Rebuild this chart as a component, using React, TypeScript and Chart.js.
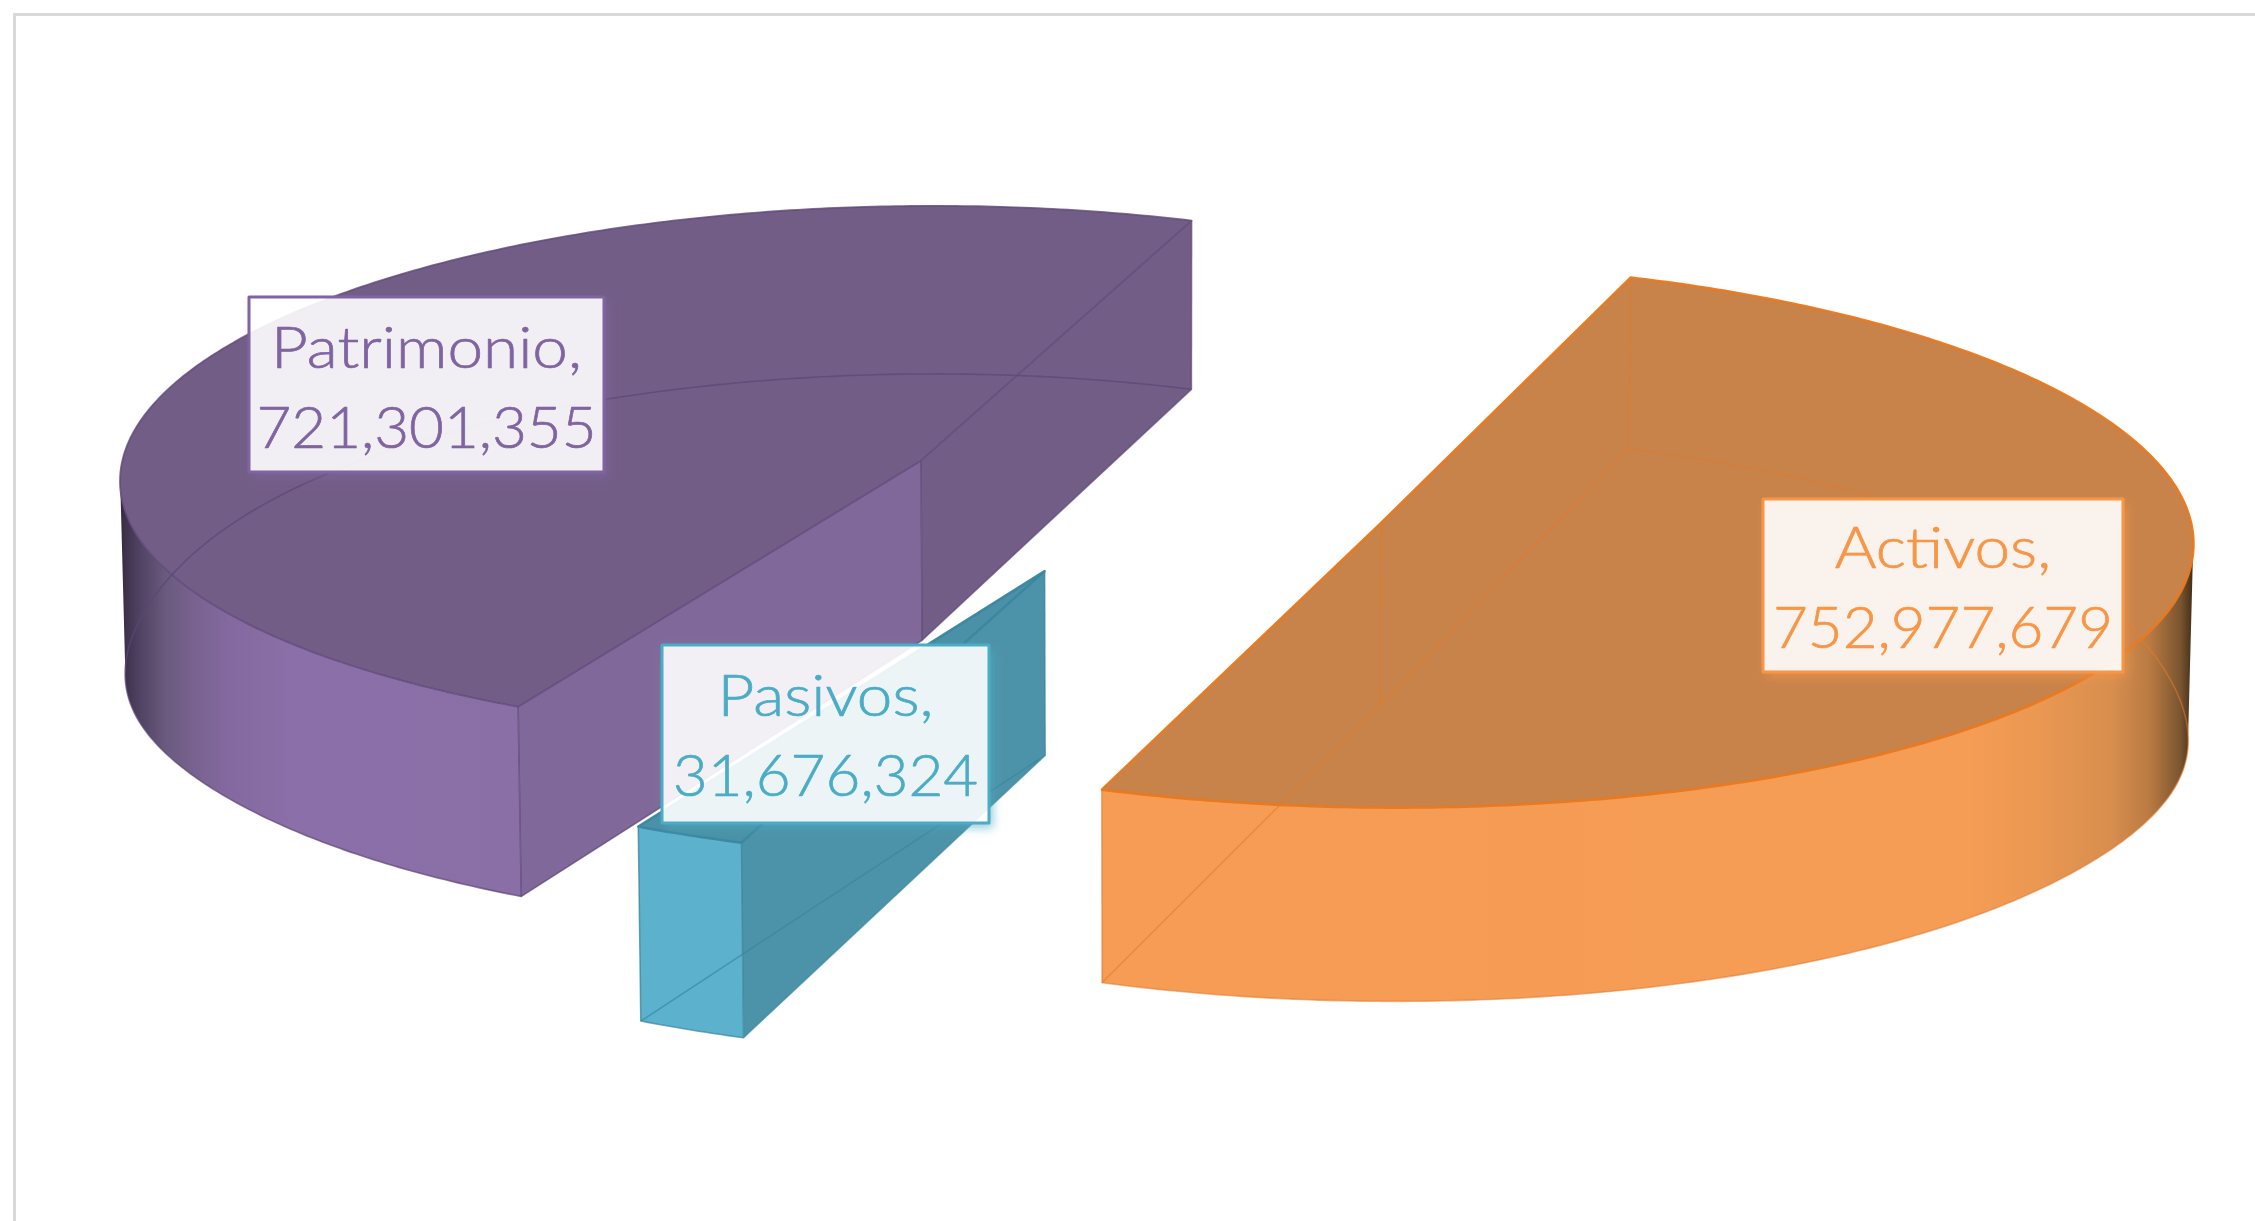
import React, { useEffect, useRef } from "react";
import { Chart, registerables } from "chart.js";

Chart.register(...registerables);

const categories = ["Activos", "Pasivos", "Patrimonio"];
const seriesValues = [752977679, 31676324, 721301355];
const seriesColors = ["#F79646", "#4BACC6", "#8064A2"];

const WIDTH = 2255;
const HEIGHT = 1221;
const ROTATION_DEG = 20;
const EXPLODE_OFFSET = 466;

// Perspective view of the unit pie on the page
const VIEW = {
  cx: 1146.5, cy: 494, a: 804.6, b: 269.4, k: 0.0456, kx: 0.06,
  depth: 181, depthTilt: 11.5, narrow: 0.005,
  sideSag: 14, sideReach: 1.29, sidePower: 16,
  wallInset: 0.06,
};

const PAINT_ORDER = [2, 0, 1];

type Stop = [number, string];
const STYLES: any[] = [
  {
    top: "#C8834A", faceStart: "#C8834A", faceEnd: "#C8834A",
    wall: [[0, "#F69C54"], [0.795, "#F59C55"], [0.855, "#EB9852"], [0.925, "#D88E4E"], [0.96, "#B97A42"], [0.988, "#7A5530"], [1, "#402C18"]] as Stop[],
    rim: "rgba(234,120,28,0.95)", rimWidth: 2.5, hidden: "rgba(226,122,44,0.55)",
  },
  {
    top: "#4A90A6", faceStart: "#4C92A8", faceEnd: "#4C92A8",
    wall: [[0, "#5CB2CC"], [1, "#5CB2CC"]] as Stop[],
    rim: "rgba(58,135,160,0.95)", rimWidth: 2.5, hidden: "rgba(58,135,160,0.7)",
  },
  {
    top: "#725D87", faceStart: "#80699A", faceEnd: "#725D87",
    wall: [[0, "#352A42"], [0.04, "#4C3F5E"], [0.113, "#6A5A7E"], [0.194, "#7A6391"], [0.275, "#8469A0"], [0.44, "#8B6FA8"], [1, "#8A6EA6"]] as Stop[],
    rim: "rgba(95,72,122,0.8)", rimWidth: 1.8, hidden: "rgba(92,70,118,0.7)",
  },
];

const LABEL_BOXES = [
  { x: 1763, y: 499, w: 360, h: 173, textDy: -2 },
  { x: 662, y: 645, w: 327, h: 178, textDy: 0 },
  { x: 249, y: 297, w: 355, h: 175, textDy: 0 },
];
const LINE_OFFSETS = [71, 151];
const LINE_STRETCH = [1.12, 1.055];
const LABEL_FONT = "300 57px Lato";

function project(u: number, v: number, h: number): [number, number] {
  let x = VIEW.cx + (VIEW.a * u) / (1 - VIEW.kx * v);
  let y = VIEW.cy + (VIEW.b * v) / (1 - VIEW.k * v);
  if (h) {
    y += VIEW.depth + VIEW.depthTilt * v + VIEW.sideSag * Math.pow(Math.abs(u) / VIEW.sideReach, VIEW.sidePower);
    x = VIEW.cx + (x - VIEW.cx) * (1 - VIEW.narrow);
  }
  return [x, y];
}

function sliceGeometry(arc: any) {
  const start = arc.startAngle;
  const end = arc.endAngle;
  const mid = (start + end) / 2;
  const d = (arc.options.offset || 0) / 4 / arc.outerRadius;
  const ou = d * Math.cos(mid);
  const ov = d * Math.sin(mid);
  const rim = (t: number, h: number) => project(ou + Math.cos(t), ov + Math.sin(t), h);
  const apex = (h: number) => project(ou, ov, h);
  const sweep = (a: number, b: number, h: number) => {
    const n = Math.max(2, Math.ceil(Math.abs(b - a) / 0.01));
    const pts: [number, number][] = [];
    for (let i = 0; i <= n; i++) pts.push(rim(a + ((b - a) * i) / n, h));
    return pts;
  };
  return { start, end, rim, apex, sweep };
}

function tracePath(ctx: CanvasRenderingContext2D, pts: [number, number][], close = false) {
  ctx.beginPath();
  pts.forEach((p, i) => (i ? ctx.lineTo(p[0], p[1]) : ctx.moveTo(p[0], p[1])));
  if (close) ctx.closePath();
}

function drawSlice(ctx: CanvasRenderingContext2D, arc: any, st: any) {
  const g = sliceGeometry(arc);
  const a0 = g.apex(0);
  const a1 = g.apex(1);

  // radial cut faces
  ctx.fillStyle = st.faceEnd;
  tracePath(ctx, [a0, g.rim(g.end, 0), g.rim(g.end, 1), a1], true);
  ctx.fill();
  ctx.fillStyle = st.faceStart;
  tracePath(ctx, [a0, g.rim(g.start, 0), g.rim(g.start, 1), a1], true);
  ctx.fill();

  // outer wall: only the part of the rim that faces the viewer
  const ranges: [number, number][] = [];
  for (const k of [-1, 0, 1]) {
    const lo = Math.max(g.start, k * 2 * Math.PI + VIEW.wallInset);
    const hi = Math.min(g.end, k * 2 * Math.PI + Math.PI - VIEW.wallInset);
    if (hi > lo) ranges.push([lo, hi]);
  }
  for (const [lo, hi] of ranges) {
    const top = g.sweep(lo, hi, 0);
    const bottom = g.sweep(hi, lo, 1);
    const all = top.concat(bottom);
    const xs = all.map((p) => p[0]);
    const grad = ctx.createLinearGradient(Math.min(...xs), 0, Math.max(...xs), 0);
    st.wall.forEach((s: Stop) => grad.addColorStop(s[0], s[1]));
    ctx.fillStyle = grad;
    tracePath(ctx, all, true);
    ctx.fill();
  }

  // top face
  const topFace = [a0, ...g.sweep(g.start, g.end, 0)];
  ctx.fillStyle = st.top;
  tracePath(ctx, topFace, true);
  ctx.fill();

  // edges seen through the translucent solid
  ctx.lineJoin = "round";
  ctx.strokeStyle = st.hidden;
  ctx.lineWidth = 1.6;
  tracePath(ctx, [a1, ...g.sweep(g.start, g.end, 1)], true);
  ctx.stroke();
  for (const t of [g.start, g.end]) {
    tracePath(ctx, [g.rim(t, 0), g.rim(t, 1)]);
    ctx.stroke();
  }
  tracePath(ctx, [a0, a1]);
  ctx.stroke();

  // crisp edges of the top face
  ctx.strokeStyle = st.rim;
  ctx.lineWidth = st.rimWidth;
  tracePath(ctx, topFace, true);
  ctx.stroke();
}

function drawLabel(ctx: CanvasRenderingContext2D, i: number, color: string) {
  const b = LABEL_BOXES[i];

  ctx.save();
  ctx.beginPath();
  ctx.rect(0, 0, WIDTH, HEIGHT);
  ctx.rect(b.x, b.y, b.w, b.h);
  ctx.clip("evenodd");
  ctx.shadowColor = color + "99";
  ctx.shadowBlur = 9;
  ctx.shadowOffsetX = 4;
  ctx.shadowOffsetY = 5;
  ctx.fillStyle = color;
  ctx.fillRect(b.x, b.y, b.w, b.h);
  ctx.restore();

  ctx.fillStyle = "rgba(255,255,255,0.9)";
  ctx.fillRect(b.x, b.y, b.w, b.h);
  ctx.strokeStyle = color;
  ctx.lineWidth = 3;
  ctx.strokeRect(b.x, b.y, b.w, b.h);

  ctx.fillStyle = color;
  ctx.font = LABEL_FONT;
  ctx.textAlign = "center";
  ctx.textBaseline = "alphabetic";
  ctx.lineWidth = 0.7;
  const cx = b.x + b.w / 2;
  const lines = [categories[i] + ",", seriesValues[i].toLocaleString("en-US")];
  LINE_OFFSETS.forEach((dy, n) => {
    ctx.save();
    ctx.translate(cx, b.y + dy + b.textDy);
    ctx.scale(LINE_STRETCH[n], 1);
    ctx.fillText(lines[n], 0, 0);
    ctx.strokeText(lines[n], 0, 0);
    ctx.restore();
  });
}

const pie3d = {
  id: "pie3d",
  beforeDraw(chart: any) {
    const ctx = chart.ctx;
    ctx.save();
    ctx.fillStyle = "#FFFFFF";
    ctx.fillRect(0, 0, WIDTH, HEIGHT);
    ctx.fillStyle = "#D9D9D9";
    ctx.fillRect(13, 13, WIDTH, 3);
    ctx.fillRect(13, 13, 3, HEIGHT);
    ctx.restore();
  },
  beforeDatasetsDraw(chart: any) {
    const ctx = chart.ctx;
    const arcs = chart.getDatasetMeta(0).data;
    ctx.save();
    PAINT_ORDER.forEach((i) => drawSlice(ctx, arcs[i], STYLES[i]));
    PAINT_ORDER.forEach((i) => drawLabel(ctx, i, seriesColors[i]));
    ctx.restore();
    return false;
  },
};

export default function App() {
  const ref = useRef<HTMLCanvasElement>(null);
  useEffect(() => {
    document.body.style.margin = "0";
    const chart = new Chart(ref.current as HTMLCanvasElement, {
      type: "pie",
      data: {
        labels: categories,
        datasets: [
          {
            data: seriesValues,
            backgroundColor: seriesColors,
            borderWidth: 0,
            offset: EXPLODE_OFFSET,
          } as any,
        ],
      },
      options: {
        animation: false,
        responsive: false,
        devicePixelRatio: 1,
        rotation: ROTATION_DEG,
        layout: { padding: 0 },
        plugins: { legend: { display: false }, tooltip: { enabled: false } },
      } as any,
      plugins: [pie3d as any],
    });
    return () => chart.destroy();
  }, []);
  return (
    <canvas
      ref={ref}
      width={WIDTH}
      height={HEIGHT}
      style={{ display: "block", position: "fixed", left: 0, top: 0 }}
    />
  );
}
